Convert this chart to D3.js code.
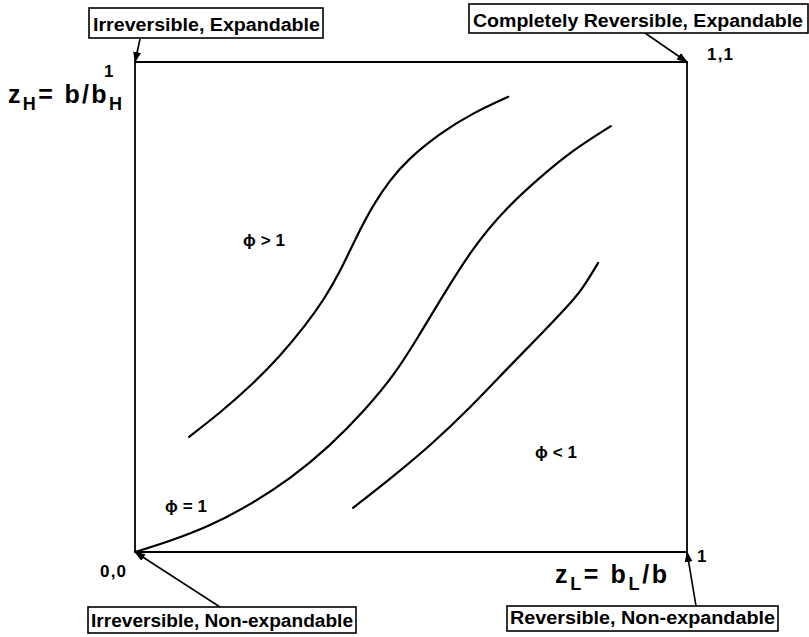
<!DOCTYPE html>
<html>
<head>
<meta charset="utf-8">
<script src="https://cdn.jsdelivr.net/npm/d3@7"></script>
<style>
  html, body { margin: 0; padding: 0; background: #fff; }
  svg { display: block; }
  text { font-family: "Liberation Sans", Arial, sans-serif; font-weight: bold; fill: #000; }
</style>
</head>
<body>
<svg id="chart" width="809" height="637"></svg>
<script>
// ---- data (unit square, zL on x, zH on y) ----
const curveUpperX = [0.098, 0.154, 0.208, 0.263, 0.308, 0.344, 0.371, 0.400, 0.431, 0.462, 0.493, 0.553, 0.612, 0.676];
const curveUpperY = [0.235, 0.284, 0.337, 0.400, 0.461, 0.518, 0.571, 0.641, 0.708, 0.759, 0.800, 0.855, 0.896, 0.929];

const curveMiddleX = [0.000, 0.063, 0.136, 0.208, 0.281, 0.353, 0.417, 0.471, 0.513, 0.553, 0.612, 0.674, 0.734, 0.793, 0.862];
const curveMiddleY = [0.000, 0.022, 0.053, 0.096, 0.149, 0.216, 0.290, 0.363, 0.439, 0.514, 0.622, 0.704, 0.765, 0.820, 0.869];

const curveLowerX = [0.395, 0.462, 0.534, 0.607, 0.679, 0.743, 0.779, 0.810, 0.839];
const curveLowerY = [0.090, 0.149, 0.216, 0.294, 0.380, 0.453, 0.496, 0.535, 0.590];

const regionLabels = ["\u03d5>1", "\u03d5=1", "\u03d5<1"];
const cornerBoxLabels = ["Irreversible, Expandable", "Completely Reversible, Expandable",
                         "Irreversible, Non-expandable", "Reversible, Non-expandable"];
const cornerTickLabels = ["1", "1,1", "0,0", "1"];

// ---- scales ----
const svg = d3.select("#chart");
const x = d3.scaleLinear().domain([0, 1]).range([135, 687]);
const y = d3.scaleLinear().domain([0, 1]).range([552, 62]);

// arrow marker
const defs = svg.append("defs");
defs.append("marker")
  .attr("id", "ah").attr("viewBox", "0 0 10 10")
  .attr("refX", 9).attr("refY", 5)
  .attr("markerWidth", 7).attr("markerHeight", 7)
  .attr("orient", "auto")
  .append("path").attr("d", "M0,1.5 L10,5 L0,8.5 Z").attr("fill", "#000");

// ---- frame ----
const frame = [[0, 0], [1, 0], [1, 1], [0, 1], [0, 0]];
svg.append("path")
  .attr("d", d3.line().x(d => x(d[0])).y(d => y(d[1]))(frame))
  .attr("fill", "none").attr("stroke", "#000").attr("stroke-width", 1.8);

// ---- curves ----
const line = d3.line().x(d => x(d[0])).y(d => y(d[1])).curve(d3.curveBasis);
const series = [
  d3.zip(curveUpperX, curveUpperY),
  d3.zip(curveMiddleX, curveMiddleY),
  d3.zip(curveLowerX, curveLowerY)
];
svg.selectAll("path.curve").data(series).join("path")
  .attr("class", "curve")
  .attr("d", line)
  .attr("fill", "none").attr("stroke", "#000").attr("stroke-width", 2.2)
  .attr("stroke-linecap", "round");

// ---- region labels ----
const regionPos = [[243, 246], [165, 512], [535, 458]];
svg.selectAll("text.region").data(regionLabels).join("text")
  .attr("class", "region")
  .attr("x", (d, i) => regionPos[i][0]).attr("y", (d, i) => regionPos[i][1])
  .attr("font-size", 17)
  .attr("textLength", 42).attr("lengthAdjust", "spacing")
  .text(d => d);

// ---- corner boxes ----
const boxSpec = [
  { tx: 93,  ty: 31,  len: 227, rx: 89,  ry: 8,   rw: 234, rh: 30, from: [140, 39],  to: [0, 1] },
  { tx: 473, ty: 27,  len: 330, rx: 469, ry: 4,   rw: 339, rh: 29, from: [645, 33],  to: [1, 1] },
  { tx: 91,  ty: 627, len: 262, rx: 88,  ry: 607, rw: 268, rh: 26, from: [220, 607], to: [0, 0] },
  { tx: 510, ty: 624, len: 265, rx: 507, ry: 606, rw: 271, rh: 25, from: [696, 606], to: [1, 0] }
];
const boxes = svg.selectAll("g.box").data(cornerBoxLabels).join("g").attr("class", "box");
boxes.append("line")
  .attr("x1", (d, i) => boxSpec[i].from[0]).attr("y1", (d, i) => boxSpec[i].from[1])
  .attr("x2", (d, i) => x(boxSpec[i].to[0])).attr("y2", (d, i) => y(boxSpec[i].to[1]))
  .attr("stroke", "#000").attr("stroke-width", 1.6)
  .attr("marker-end", "url(#ah)");
boxes.append("rect")
  .attr("x", (d, i) => boxSpec[i].rx).attr("y", (d, i) => boxSpec[i].ry)
  .attr("width", (d, i) => boxSpec[i].rw).attr("height", (d, i) => boxSpec[i].rh)
  .attr("fill", "#fff").attr("stroke", "#000").attr("stroke-width", 1.6);
boxes.append("text")
  .attr("x", (d, i) => boxSpec[i].tx).attr("y", (d, i) => boxSpec[i].ty)
  .attr("font-size", 18)
  .attr("textLength", (d, i) => boxSpec[i].len)
  .attr("lengthAdjust", "spacingAndGlyphs")
  .text(d => d);

// ---- corner tick labels ----
const tickPos = [[104, 77], [707, 60], [100, 577], [697, 562]];
svg.selectAll("text.tick").data(cornerTickLabels).join("text")
  .attr("class", "tick")
  .attr("x", (d, i) => tickPos[i][0]).attr("y", (d, i) => tickPos[i][1])
  .attr("font-size", 17)
  .attr("textLength", d => d.length > 1 ? 26 : null)
  .attr("lengthAdjust", "spacing")
  .text(d => d);

// ---- axis titles ----
function axisTitle(xp, yp, len, parts) {
  const t = svg.append("text").attr("x", xp).attr("y", yp).attr("font-size", 25)
    .attr("textLength", len).attr("lengthAdjust", "spacing");
  parts.forEach(p => {
    const s = t.append("tspan").text(p.t);
    if (p.sub) s.attr("font-size", 18).attr("dy", 7);
    if (p.up) s.attr("dy", -7);
  });
}
axisTitle(8, 103, 114, [{ t: "z" }, { t: "H", sub: true }, { t: "=  b/b", up: true }, { t: "H", sub: true }]);
axisTitle(555, 583, 112, [{ t: "z" }, { t: "L", sub: true }, { t: "=  b", up: true }, { t: "L", sub: true }, { t: "/b", up: true }]);
</script>
</body>
</html>
